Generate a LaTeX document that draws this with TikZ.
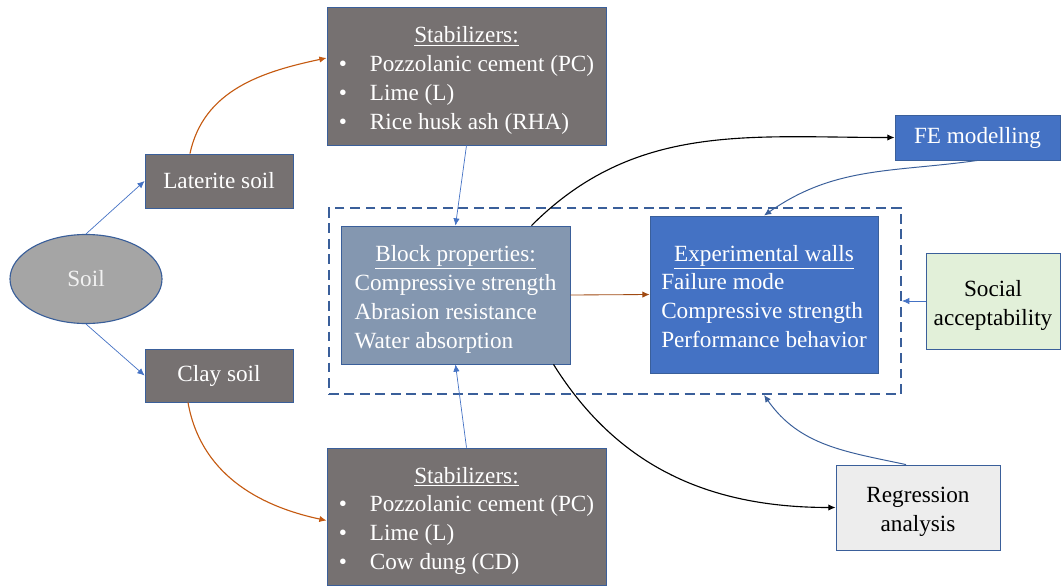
\documentclass[tikz,border=0pt]{standalone}
\usepackage{fontspec}
\setmainfont{Liberation Serif}
\usepackage{tikz}
\usetikzlibrary{arrows.meta,backgrounds,positioning,shapes.geometric}
\definecolor{sebGray}{HTML}{767171}
\definecolor{sebEdge}{HTML}{3A5F9A}
\definecolor{sebBlue}{HTML}{4472C4}
\definecolor{sebSlate}{HTML}{8497B0}
\definecolor{sebOrange}{HTML}{C55A11}
\definecolor{sebBrown}{HTML}{A04A12}
\definecolor{sebGreen}{HTML}{E2F0D9}
\definecolor{sebLight}{HTML}{EDEDED}
\definecolor{sebSoil}{HTML}{A5A5A5}
\newcommand{\sebfont}{\fontsize{16.5}{20.5}\selectfont}
\newcommand{\sebbul}{\makebox[0.775cm][l]{\textbullet}}
\newcommand{\sebdown}[1]{\raisebox{-0.1cm}[\height][\depth]{#1}}
\tikzset{
  sebbox/.style={rectangle,draw=sebEdge,line width=0.6pt,inner sep=0pt,
                 font=\sebfont,align=center},
  sebstab/.style={sebbox,fill=sebGray,text=white,
                  minimum width=6.975cm,minimum height=3.45cm},
  sebsoil/.style={sebbox,fill=sebGray,text=white,
                  minimum width=3.7cm,minimum height=1.35cm},
  sebarrow/.style={-{Latex[length=1.8mm,width=1.6mm]},line width=0.5pt,sebBlue},
  sebcurve/.style={-{Latex[length=1.8mm,width=1.6mm]},line width=0.8pt},
  sebgroup/.style={draw=sebEdge,line width=1.4pt,dash pattern=on 7pt off 4pt,
                   minimum width=14.3cm,minimum height=4.65cm}
}

\begin{document}
\begin{tikzpicture}[x=0.025cm,y=-0.025cm]
  \useasboundingbox (0,0) rectangle (1061,587);

  \node[ellipse,draw=sebEdge,line width=0.8pt,fill=sebSoil,
        minimum width=3.8cm,minimum height=2.225cm,inner sep=0pt,
        font=\sebfont,text=white!95!black] (soil) at (86,279) {Soil};
  \node[sebsoil] (lat) at (219,181) {Laterite soil};
  \node[sebsoil,minimum height=1.325cm] (clay) at (219,375.5) {Clay soil};

  \node[sebstab] (stabT) at (466.5,76)
    {\sebdown{\begin{tabular}{@{}l@{}}
       \multicolumn{1}{c}{\underline{Stabilizers:}}\\
       \sebbul Pozzolanic cement (PC)\\
       \sebbul Lime (L)\\
       \sebbul Rice husk ash (RHA)
     \end{tabular}}};
  \node[sebstab,minimum height=3.425cm] (stabB) at (466.5,516.5)
    {\sebdown{\begin{tabular}{@{}l@{}}
       \multicolumn{1}{c}{\underline{Stabilizers:}}\\
       \sebbul Pozzolanic cement (PC)\\
       \sebbul Lime (L)\\
       \sebbul Cow dung (CD)
     \end{tabular}}};

  \node[sebgroup] (grp) at (615,301) {};
  \node[sebbox,fill=sebSlate,text=white,minimum width=5.725cm,
        minimum height=3.45cm] (block) at (455.5,295)
    {\sebdown{\begin{tabular}{@{}l@{}}
       \multicolumn{1}{c}{\underline{Block properties:}}\\
       Compressive strength\\
       Abrasion resistance\\
       Water absorption
     \end{tabular}}};
  \node[sebbox,fill=sebBlue,text=white,minimum width=5.7cm,
        minimum height=3.925cm] (walls) at (764,294.5)
    {\sebdown{\begin{tabular}{@{}l@{}}
       \multicolumn{1}{c}{\underline{Experimental walls}}\\
       Failure mode\\
       Compressive strength\\
       Performance behavior
     \end{tabular}}};

  \node[sebbox,fill=sebBlue,text=white,minimum width=4.125cm,
        minimum height=1.125cm] (fe) at (977.5,137.5) {FE modelling};
  \node[sebbox,fill=sebGreen,minimum width=3.35cm,
        minimum height=2.4cm] (social) at (993,301)
    {\sebdown{\begin{tabular}{@{}c@{}}Social\\acceptability\end{tabular}}};
  \node[sebbox,fill=sebLight,minimum width=4.1cm,
        minimum height=2.125cm] (reg) at (918,507.5)
    {\sebdown{\begin{tabular}{@{}c@{}}Regression\\analysis\end{tabular}}};

  % soil to soil types
  \draw[sebarrow] (soil.north) -- (lat.west);
  \draw[sebarrow] (soil.south) -- (clay.west);
  \draw[sebcurve,sebOrange] ([xshift=-0.725cm]lat.north)
    to[out=78,in=192] ([yshift=0.45cm]stabT.west);
  \draw[sebcurve,sebOrange] ([xshift=-0.775cm]clay.south)
    to[out=-80,in=168] ([yshift=-0.1cm]stabB.west);

  % stabilizers to blocks, blocks to walls
  \draw[sebarrow] (stabT.south) -- (block.north);
  \draw[sebarrow] (stabB.north) -- (block.south);
  \draw[sebcurve,line width=0.6pt,sebBrown] (block.east) -- (walls.west);

  % outputs
  \draw[sebcurve,black] ([xshift=1.9cm]block.north)
    to[out=45,in=180] (fe.west);
  \draw[sebcurve,black] ([xshift=2.45cm]block.south)
    to[out=-58,in=180] (reg.west);
  \draw[sebarrow,sebEdge,line width=0.7pt] (fe.south)
    to[out=188,in=35] (walls.north);
  \draw[sebarrow] (social.west) -- (grp.east);
  \draw[sebarrow,sebEdge,line width=0.7pt] ([xshift=-0.3cm]reg.north)
    to[out=168,in=-55] (walls.south |- grp.south);
\end{tikzpicture}
\end{document}
